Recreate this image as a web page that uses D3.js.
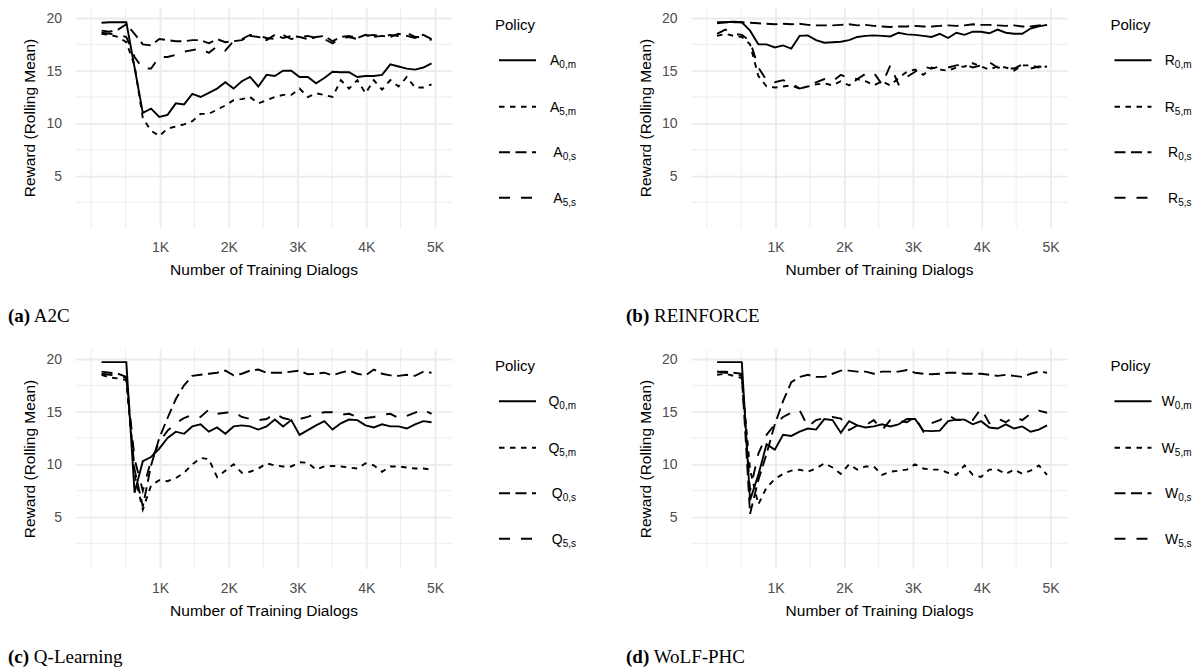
<!DOCTYPE html>
<html>
<head>
<meta charset="utf-8">
<script src="https://cdn.jsdelivr.net/npm/d3@7"></script>
<style>
    body { margin: 0; background: #fff; }
    svg text { font-family: Helvetica, Arial, "Liberation Sans", sans-serif; }
    svg text.caption { font-family: "Times New Roman", "Liberation Serif", serif; }
</style>
</head>
<body>
<svg id="chart" width="1196" height="669"></svg>
<script>
// x positions of the rolling mean (number of training dialogs)
const xDialogs = [150, 270, 390, 510, 630, 750, 870, 990, 1110, 1230, 1350, 1470, 1590, 1710, 1830, 1950, 2070, 2190, 2310, 2430,
    2550, 2670, 2790, 2910, 3030, 3150, 3270, 3390, 3510, 3630, 3750, 3870, 3990, 4110, 4230, 4350, 4470, 4590, 4710, 4830, 4950];

// (a) A2C
const a2cA0m = [19.55, 19.6, 19.6, 19.6, 15.3, 11.0, 11.4, 10.6, 10.8, 11.9, 11.8, 12.8, 12.5, 12.9, 13.3, 13.9, 13.3, 14.0, 14.4, 13.5,
    14.6, 14.5, 15.0, 15.0, 14.4, 14.4, 13.8, 14.3, 14.9, 14.85, 14.85, 14.4, 14.5, 14.5, 14.6, 15.6, 15.4, 15.2, 15.1, 15.3, 15.7];
const a2cA5m = [18.5, 18.4, 18.2, 17.7, 15.5, 10.5, 9.3, 8.8, 9.5, 9.7, 9.9, 10.2, 10.9, 10.9, 11.3, 11.7, 12.2, 12.3, 12.5, 11.9,
    12.2, 12.5, 12.7, 12.7, 13.3, 12.5, 12.85, 12.7, 12.5, 14.1, 13.3, 14.1, 12.85, 14.1, 13.2, 14.1, 13.5, 14.4, 13.4, 13.4, 13.7];
const a2cA0s = [18.8, 18.7, 18.9, 19.4, 18.5, 17.5, 17.4, 18.0, 17.9, 17.8, 17.8, 17.9, 17.9, 17.6, 18.0, 17.7, 17.8, 17.9, 18.3, 18.2,
    17.9, 18.4, 18.1, 18.3, 18.2, 18.0, 18.2, 18.3, 17.8, 18.2, 18.3, 18.1, 18.4, 18.2, 18.3, 18.2, 18.5, 18.3, 18.1, 18.4, 18.0];
const a2cA5s = [18.6, 18.5, 18.4, 18.2, 16.3, 15.2, 15.2, 16.3, 16.3, 16.5, 16.8, 16.95, 17.1, 16.7, 17.3, 16.9, 17.8, 18.0, 18.4, 18.3,
    18.1, 18.0, 18.4, 18.0, 18.2, 18.3, 18.1, 18.0, 17.6, 18.1, 18.2, 18.0, 18.3, 18.4, 18.2, 18.4, 18.3, 18.6, 18.2, 18.2, 17.9];

// (b) REINFORCE
const rfR0m = [19.5, 19.6, 19.65, 19.6, 18.8, 17.5, 17.5, 17.2, 17.4, 17.1, 18.3, 18.35, 17.9, 17.65, 17.7, 17.75, 17.9, 18.2, 18.3, 18.35,
    18.3, 18.25, 18.6, 18.45, 18.4, 18.3, 18.2, 18.5, 18.1, 18.6, 18.4, 18.7, 18.7, 18.55, 18.9, 18.6, 18.5, 18.5, 19.0, 19.2, 19.35];
const rfR5m = [18.3, 18.5, 18.3, 18.2, 17.5, 14.5, 13.5, 13.4, 13.5, 13.6, 13.3, 13.5, 13.7, 13.8, 13.6, 14.0, 13.6, 14.2, 14.0, 13.6,
    14.0, 13.6, 14.3, 14.9, 15.1, 14.6, 15.3, 15.1, 15.0, 15.3, 15.4, 15.7, 15.4, 15.1, 15.4, 15.3, 15.0, 15.5, 15.5, 15.3, 15.4];
const rfR0s = [19.6, 19.6, 19.6, 19.6, 19.55, 19.5, 19.45, 19.4, 19.45, 19.4, 19.45, 19.35, 19.3, 19.3, 19.3, 19.35, 19.4, 19.3, 19.35, 19.25,
    19.2, 19.15, 19.2, 19.2, 19.25, 19.2, 19.2, 19.25, 19.3, 19.25, 19.3, 19.4, 19.35, 19.35, 19.3, 19.25, 19.3, 19.2, 19.2, 19.3, 19.35];
const rfR5s = [18.5, 18.9, 18.5, 18.4, 17.8, 15.3, 14.1, 13.9, 14.1, 13.8, 13.3, 13.5, 13.9, 14.2, 14.0, 14.6, 14.3, 14.2, 14.7, 14.8,
    13.7, 15.5, 13.7, 14.4, 14.9, 15.4, 15.2, 15.4, 15.3, 15.5, 15.6, 15.3, 15.5, 15.8, 15.3, 15.2, 15.2, 15.6, 15.2, 15.4, 15.3];

// (c) Q-Learning
const qlQ0m = [19.7, 19.7, 19.7, 19.7, 7.3, 10.3, 10.7, 11.5, 12.5, 13.1, 12.9, 13.6, 13.8, 13.1, 13.5, 12.9, 13.6, 13.7, 13.6, 13.3,
    13.6, 14.25, 13.6, 14.2, 12.8, 13.25, 13.7, 14.1, 13.3, 13.9, 14.25, 14.2, 13.7, 13.5, 13.8, 13.6, 13.6, 13.4, 13.8, 14.1, 14.0];
const qlQ5m = [18.5, 18.25, 18.15, 18.0, 9.0, 5.7, 8.0, 8.5, 8.4, 8.7, 9.2, 10.0, 10.6, 10.5, 8.8, 9.4, 10.0, 9.2, 9.3, 9.6,
    10.1, 9.9, 9.8, 9.8, 10.2, 10.15, 9.5, 9.8, 9.85, 9.8, 9.7, 9.6, 10.1, 9.9, 9.3, 9.8, 9.8, 9.7, 9.6, 9.6, 9.5];
const qlQ0s = [18.8, 18.7, 18.6, 18.3, 9.5, 6.0, 9.9, 12.5, 14.4, 16.2, 17.5, 18.4, 18.5, 18.6, 18.7, 18.9, 18.45, 18.6, 18.9, 19.0,
    18.7, 18.7, 18.7, 18.8, 18.9, 18.55, 18.6, 18.7, 18.45, 18.7, 18.9, 18.6, 18.45, 19.0, 18.6, 18.45, 18.4, 18.5, 18.4, 18.8, 18.7];
const qlQ5s = [18.6, 18.5, 18.4, 18.2, 10.5, 7.5, 10.4, 12.1, 13.2, 13.9, 14.4, 14.7, 14.5, 15.2, 14.8, 14.9, 15.0, 14.5, 14.3, 14.2,
    14.3, 14.8, 14.4, 14.2, 14.3, 14.5, 14.8, 14.95, 14.95, 14.7, 14.8, 14.5, 14.4, 14.5, 14.7, 14.8, 14.4, 14.6, 14.9, 15.2, 14.8];

// (d) WoLF-PHC
const wpW0m = [19.7, 19.7, 19.7, 19.7, 6.6, 9.0, 11.9, 11.4, 12.8, 12.7, 13.1, 13.4, 13.3, 14.3, 14.2, 13.0, 14.1, 13.7, 13.5, 13.6,
    13.8, 13.6, 13.8, 14.3, 14.3, 13.2, 13.15, 13.2, 14.1, 14.25, 14.25, 13.8, 14.1, 13.5, 13.4, 13.8, 13.4, 13.6, 13.1, 13.3, 13.7];
const wpW5m = [18.5, 18.6, 18.4, 18.2, 9.5, 6.2, 7.8, 8.6, 9.1, 9.4, 9.5, 9.3, 9.6, 10.1, 9.7, 9.1, 10.0, 9.5, 9.8, 9.8,
    9.0, 9.3, 9.4, 9.5, 10.0, 9.6, 9.5, 9.5, 9.2, 9.0, 9.9, 9.0, 8.8, 9.5, 9.5, 9.1, 9.5, 9.1, 9.4, 9.9, 9.0];
const wpW0s = [18.8, 18.8, 18.7, 18.6, 5.3, 8.5, 11.0, 13.8, 16.0, 17.8, 18.3, 18.5, 18.3, 18.3, 18.6, 18.9, 18.9, 18.8, 18.8, 18.6,
    18.8, 18.8, 18.8, 18.95, 18.7, 18.6, 18.55, 18.6, 18.7, 18.7, 18.6, 18.6, 18.6, 18.5, 18.4, 18.5, 18.4, 18.3, 18.6, 18.8, 18.7];
const wpW5s = [18.8, 18.7, 18.6, 18.4, 7.5, 11.0, 12.8, 13.8, 14.5, 14.9, 15.15, 13.6, 14.2, 14.4, 14.5, 14.35, 13.25, 13.7, 13.7, 14.2,
    13.25, 14.2, 14.1, 14.0, 14.5, 13.1, 13.9, 14.2, 14.7, 14.2, 14.2, 14.2, 15.3, 13.9, 14.35, 14.0, 14.5, 14.2, 14.8, 15.1, 14.9];

// tick labels / legend keys
const xMajor = [1000, 2000, 3000, 4000, 5000];
const xMinor = [0, 500, 1500, 2500, 3500, 4500];
const yMajor = [5, 10, 15, 20];
const yMinor = [2.5, 7.5, 12.5, 17.5];
const policySubs = ["0,m", "5,m", "0,s", "5,s"];

const panels = [
    {tag: "(a)", name: "A2C", letter: "A", dx: 0, dy: 0, series: [a2cA0m, a2cA5m, a2cA0s, a2cA5s]},
    {tag: "(b)", name: "REINFORCE", letter: "R", dx: 615.5, dy: 0, series: [rfR0m, rfR5m, rfR0s, rfR5s]},
    {tag: "(c)", name: "Q-Learning", letter: "Q", dx: 0, dy: 341, series: [qlQ0m, qlQ5m, qlQ0s, qlQ5s]},
    {tag: "(d)", name: "WoLF-PHC", letter: "W", dx: 615.5, dy: 341, series: [wpW0m, wpW5m, wpW0s, wpW5s]}
];

// ggplot default linetypes: solid, 22, 42, 44
const dashes = [null, "5.5,5.5", "11,5.5", "11,11"];

const plot = {left: 76, right: 452, top: 8, bottom: 228};
const gridColor = "#ebebeb";

const svg = d3.select("#chart");

panels.forEach(p => {
    let g = svg.append("g").attr("transform", "translate(" + p.dx + "," + p.dy + ")");

    let x = d3.scaleLinear().domain([0, 5000]).range([91.25, 435]);
    let y = d3.scaleLinear().domain([0, 20]).range([228.7, 18]);

    // minor grid
    g.append("g").selectAll("line").data(xMinor).join("line")
        .attr("x1", d => x(d)).attr("x2", d => x(d))
        .attr("y1", plot.top).attr("y2", plot.bottom)
        .attr("stroke", gridColor).attr("stroke-width", 0.9);
    g.append("g").selectAll("line").data(yMinor).join("line")
        .attr("x1", plot.left).attr("x2", plot.right)
        .attr("y1", d => y(d)).attr("y2", d => y(d))
        .attr("stroke", gridColor).attr("stroke-width", 0.9);

    // major grid + tick labels through the axis generators
    let xAxis = d3.axisBottom(x).tickValues(xMajor)
        .tickFormat(d => (d / 1000) + "K")
        .tickSize(-(plot.bottom - plot.top)).tickPadding(14);
    let yAxis = d3.axisLeft(y).tickValues(yMajor)
        .tickSize(-(plot.right - plot.left)).tickPadding(14);

    let gx = g.append("g").attr("transform", "translate(0," + plot.bottom + ")").call(xAxis);
    let gy = g.append("g").attr("transform", "translate(" + plot.left + ",0)").call(yAxis);
    [gx, gy].forEach(a => {
        a.select(".domain").remove();
        a.selectAll(".tick line").attr("stroke", gridColor).attr("stroke-width", 1.8);
        a.selectAll(".tick text").attr("fill", "#4d4d4d").style("font-size", "14px");
    });

    // axis titles
    g.append("text")
        .attr("x", (plot.left + plot.right) / 2).attr("y", 274.5)
        .attr("text-anchor", "middle").style("font-size", "15.5px")
        .text("Number of Training Dialogs");
    g.append("text")
        .attr("transform", "translate(35," + (plot.top + plot.bottom) / 2 + ") rotate(-90)")
        .attr("text-anchor", "middle").style("font-size", "15.5px")
        .text("Reward (Rolling Mean)");

    // lines
    let line = d3.line().x((d, i) => x(xDialogs[i])).y(d => y(d));
    p.series.forEach((s, k) => {
        g.append("path").datum(s)
            .attr("d", line)
            .attr("fill", "none")
            .attr("stroke", "#000")
            .attr("stroke-width", 1.9)
            .attr("stroke-dasharray", dashes[k]);
    });

    // legend
    g.append("text").attr("x", 495).attr("y", 29.5)
        .style("font-size", "15px").text("Policy");
    let keyY = [60.3, 106.7, 152.3, 197.7];
    policySubs.forEach((sub, k) => {
        g.append("line")
            .attr("x1", 499).attr("x2", 536)
            .attr("y1", keyY[k]).attr("y2", keyY[k])
            .attr("stroke", "#000").attr("stroke-width", 1.9)
            .attr("stroke-dasharray", dashes[k]);
        let t = g.append("text").attr("x", 576).attr("y", keyY[k] + 5)
            .attr("text-anchor", "end").style("font-size", "14px");
        t.append("tspan").text(p.letter);
        t.append("tspan").attr("dy", 3).style("font-size", "10px").text(sub);
    });

    // caption
    let cap = g.append("text").attr("class", "caption")
        .attr("x", p.dx === 0 ? 8 : 10.5).attr("y", 322)
        .style("font-size", "19px");
    cap.append("tspan").style("font-weight", "bold").text(p.tag);
    cap.append("tspan").text(" " + p.name);
});
</script>
</body>
</html>
